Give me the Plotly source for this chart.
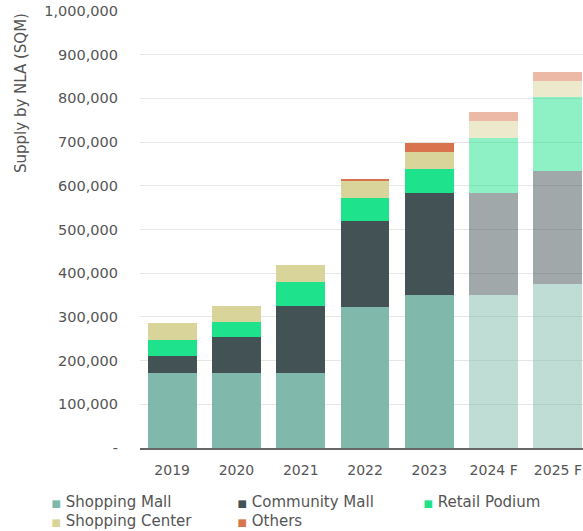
import plotly.graph_objects as go

# Retail supply by format, net lettable area (sqm); last two years are forecasts
years = ["2019", "2020", "2021", "2022", "2023", "2024 F", "2025 F"]
is_forecast = [False, False, False, False, False, True, True]

shopping_mall = [171000, 171000, 171000, 323000, 350000, 350000, 375000]
community_mall = [40000, 82000, 155000, 197000, 233000, 233000, 259000]
retail_podium = [36000, 35000, 55000, 53000, 55000, 127000, 170000]
shopping_center = [38000, 37000, 38000, 38000, 39000, 38000, 36000]
others = [0, 0, 0, 3000, 21000, 22000, 21000]

y_ticks = [0, 100000, 200000, 300000, 400000, 500000, 600000, 700000, 800000, 900000, 1000000]
y_tick_text = ["-", "100,000", "200,000", "300,000", "400,000", "500,000",
               "600,000", "700,000", "800,000", "900,000", "1,000,000"]

series = [
    ("Shopping Mall", shopping_mall, (128, 185, 172), "legend"),
    ("Community Mall", community_mall, (67, 82, 84), "legend"),
    ("Retail Podium", retail_podium, (30, 227, 140), "legend"),
    ("Shopping Center", shopping_center, (217, 212, 154), "legend2"),
    ("Others", others, (217, 115, 78), "legend2"),
]

FONT = "DejaVu Sans, sans-serif"
TEXT = "#555555"

fig = go.Figure()

for name, values, (r, g, b), _ in series:
    colors = [f"rgba({r},{g},{b},{0.5 if f else 1})" for f in is_forecast]
    fig.add_trace(go.Bar(
        x=years, y=values, name=name,
        marker=dict(color=colors, line=dict(width=0)),
        showlegend=False,
    ))

# Legend entries: a small coloured square set right before each label
for name, values, (r, g, b), leg in series:
    label = (f'<span style="color:rgb({r},{g},{b});font-size:10px">\u25A0</span> '
             f'{name}')
    fig.add_trace(go.Scatter(
        x=[None], y=[None], mode="markers", name=label,
        marker=dict(symbol="square", size=1, color="rgba(0,0,0,0)",
                    line=dict(width=0, color="rgba(0,0,0,0)")),
        showlegend=True, legend=leg,
    ))

legend_common = dict(
    orientation="h",
    xanchor="left", yanchor="top",
    entrywidth=141,
    font=dict(size=15, color=TEXT, family=FONT),
    itemclick=False, itemdoubleclick=False,
    traceorder="normal",
    bgcolor="rgba(0,0,0,0)",
)

fig.update_layout(
    width=583, height=531,
    margin=dict(l=140, r=0, t=11, b=83, autoexpand=False),
    barmode="stack",
    bargap=0.24,
    plot_bgcolor="white",
    paper_bgcolor="white",
    font=dict(family=FONT, color=TEXT, size=14),
    legend=dict(x=-0.29, y=-0.085, **legend_common),
    legend2=dict(x=-0.29, y=-0.128, **legend_common),
    xaxis=dict(
        range=[-0.5, 6.39],
        showline=True, linecolor="#666666", linewidth=1.5,
        showgrid=False,
        ticks="",
        tickfont=dict(size=14, color=TEXT),
        ticklabelstandoff=8,
    ),
    yaxis=dict(
        range=[0, 1000000],
        tickvals=y_ticks, ticktext=y_tick_text,
        showgrid=True, gridcolor="#e6e6e6", gridwidth=1,
        zeroline=False,
        ticks="",
        tickfont=dict(size=14.5, color=TEXT),
        ticklabelstandoff=21,
    ),
    annotations=[dict(
        text="Supply by NLA (SQM)",
        xref="paper", yref="paper",
        x=-119 / 443, y=1.0,
        xanchor="center", yanchor="top",
        textangle=-90, showarrow=False,
        font=dict(size=15, color=TEXT, family=FONT),
    )],
)

fig.write_html("out.html")
